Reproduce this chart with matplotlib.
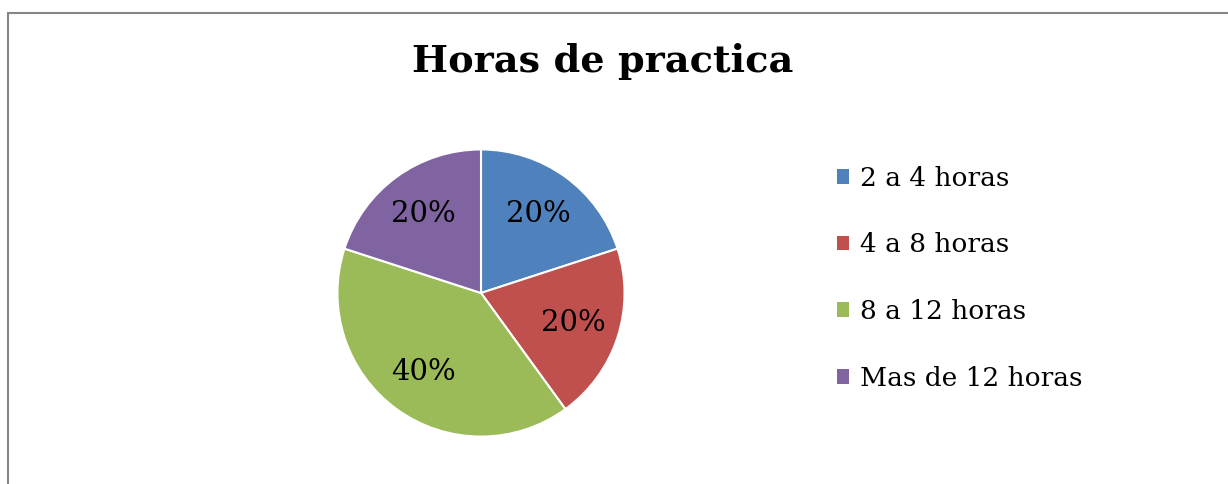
import matplotlib
matplotlib.use("Agg")
import matplotlib.pyplot as plt
from matplotlib.patches import Patch, Rectangle

categorias = ["2 a 4 horas", "4 a 8 horas", "8 a 12 horas", "Mas de 12 horas"]
valores = [20, 20, 40, 20]
colores = ["#4F81BD", "#C0504D", "#9BBB59", "#8064A2"]
titulo = "Horas de practica"

plt.rcParams['font.family'] = ['DejaVu Serif']

W, H = 1228, 484
fig = plt.figure(figsize=(W / 100, H / 100), dpi=100)

# pie axes: center ~ (481, 293), radius ~145 px
ax = fig.add_axes([336 / W, (H - 438) / H, 290 / W, 290 / H])
wedges, texts, autotexts = ax.pie(valores, colors=colores, startangle=90, counterclock=False,
                                  autopct='%1.0f%%', pctdistance=0.68,
                                  wedgeprops=dict(edgecolor='white', linewidth=1.5),
                                  textprops=dict(fontsize=21, color='black'))
ax.set_xlim(-1.01, 1.01)
ax.set_ylim(-1.01, 1.01)
ax.set_aspect('equal')

fig.text(603 / W, 1 - 61 / H, titulo, ha='center', va='center',
         fontsize=27.5, fontweight='bold')

handles = [Patch(facecolor=c, edgecolor='none') for c in colores]
fig.legend(handles, categorias, loc='upper left', bbox_to_anchor=(813 / W, 1 - 142 / H),
           frameon=False, fontsize=19, handlelength=0.48, handleheight=0.48,
           handletextpad=0.42, labelspacing=1.58)

# chart area border
fig.add_artist(Rectangle((8 / W, -0.1), 1.1, 1.1 - 13 / H, transform=fig.transFigure,
                         fill=False, edgecolor='#868686', linewidth=1.5))

fig.savefig("out.png", dpi=100)
